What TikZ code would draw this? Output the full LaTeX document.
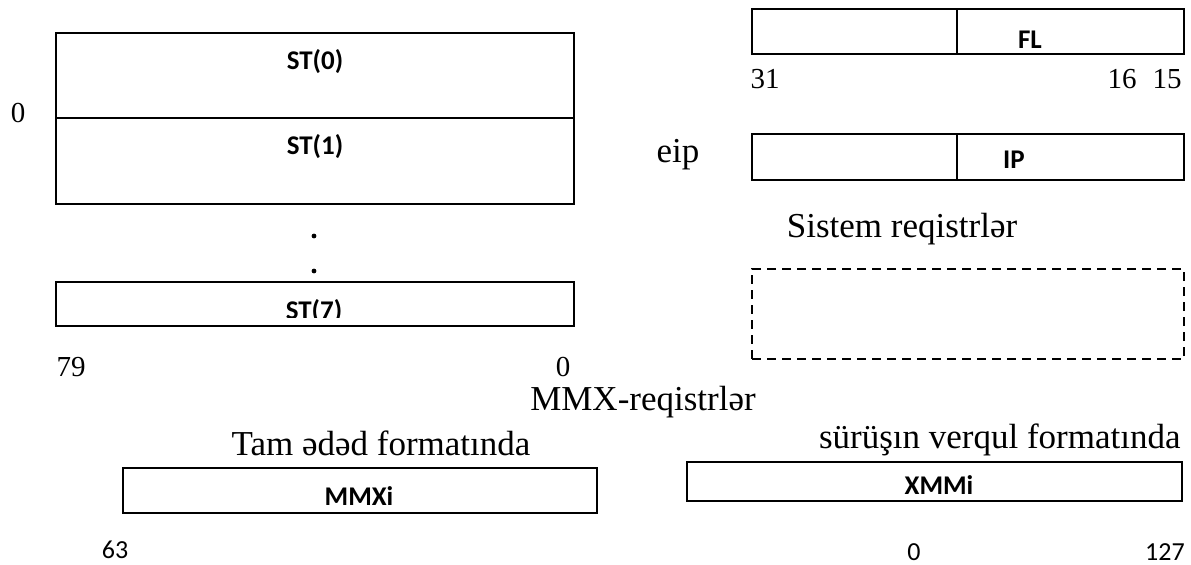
\documentclass[tikz,border=0pt]{standalone}
\usepackage{fontspec}
\setmainfont{Liberation Serif}
\newfontfamily\regfont{Carlito}
\usetikzlibrary{positioning}

\begin{document}
\begin{tikzpicture}[
                x=0.5pt, y=-0.5pt,
                regbox/.style={draw, line width=0.9pt, inner sep=0pt, outer sep=0pt},
                txt/.style={font=\fontsize{17.5}{20}\selectfont, inner sep=0pt},
                num/.style={font=\fontsize{14.5}{16}\selectfont, inner sep=0pt},
                lbl/.style={font=\regfont\bfseries\fontsize{13.5}{15}\selectfont, inner sep=0pt},
                bnum/.style={font=\regfont\fontsize{13}{15}\selectfont, inner sep=0pt}
            ]
                \useasboundingbox (0,0) rectangle (1191,564);
                \node [regbox, minimum width=259pt, minimum height=42.5pt] (st0) at (315,75.5) {};
                \node [regbox, minimum width=259pt, minimum height=43pt, below=0pt of st0] (st1) {};
                \node [regbox, minimum width=259pt, minimum height=22pt] (st7) at (315,304) {};
                \node [lbl] (st0l) at ([yshift=-14.5pt]st0.north) {ST(0)};
                \node [lbl] (st1l) at ([yshift=-14.5pt]st1.north) {ST(1)};
                \begin{scope}
                    \clip (56,282) rectangle (574,317.5);
                    \node [lbl, anchor=base] (st7l) at (314,319) {ST(7)};
                \end{scope}
                \foreach \y in {236,271} {
                    \fill (314,\y) circle (1.2pt);
                }
                \node [num] (zero) at (18,113) {0};
                \node [num, anchor=base] (n79) at (71,376) {79};
                \node [num, anchor=base] (n0) at (563,376) {0};
                \node [regbox, minimum width=102.5pt, minimum height=22.5pt] (flhi) at (854.5,31.5) {};
                \node [regbox, minimum width=113.5pt, minimum height=22.5pt, right=0pt of flhi] (fllo) {};
                \node [lbl] (fl) at (1030,40) {FL};
                \node [num, anchor=base] (n31) at (765,88) {31};
                \node [num, anchor=base] (n16) at (1122,88) {16};
                \node [num, anchor=base] (n15) at (1167,88) {15};
                \node [regbox, minimum width=102.5pt, minimum height=23pt] (iphi) at (854.5,157) {};
                \node [regbox, minimum width=113.5pt, minimum height=23pt, right=0pt of iphi] (iplo) {};
                \node [lbl] (ip) at (1014,160) {IP};
                \node [txt, anchor=base] (eip) at (678,162) {eip};
                \node [txt, anchor=base] (sys) at (902,237) {Sistem reqistrlər};
                \node [regbox, dash pattern=on 4.5pt off 3pt, minimum width=216pt, minimum height=45pt] (sysbox) at (968,314) {};
                \node [txt, anchor=base] (mmxt) at (643,410) {MMX-reqistrlər};
                \node [txt, anchor=base] (tam) at (381,455) {Tam ədəd formatında};
                \node [txt, anchor=base east] (flt) at (1181,448) {sürüşın verqul formatında};
                \node [regbox, minimum width=237pt, minimum height=22.5pt] (mmx) at (360,490.5) {};
                \node [lbl] (mmxl) at (359,496) {MMXi};
                \node [regbox, minimum width=247.5pt, minimum height=19.5pt] (xmm) at (934.5,481.5) {};
                \node [lbl] (xmml) at (939,485) {XMMi};
                \node [bnum] (n63) at (115,550) {63};
                \node [bnum] (n0b) at (914,552) {0};
                \node [bnum] (n127) at (1165,552) {127};
            \end{tikzpicture}
\end{document}
